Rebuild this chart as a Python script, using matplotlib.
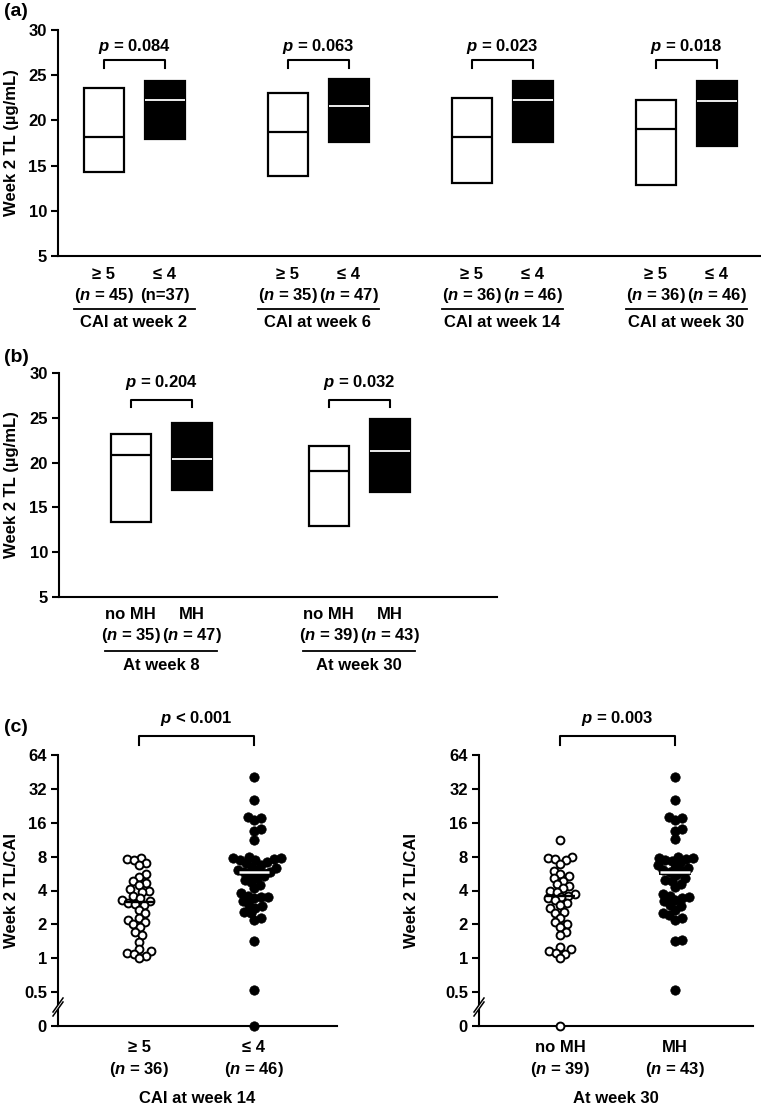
import numpy as np
import matplotlib
matplotlib.use("Agg")
import matplotlib.pyplot as plt
from matplotlib.transforms import blended_transform_factory
from matplotlib.patches import Polygon

plt.rcParams["font.family"] = ["Liberation Sans", "DejaVu Sans"]
plt.rcParams["font.weight"] = "bold"
plt.rcParams["axes.labelweight"] = "bold"
plt.rcParams["mathtext.fontset"] = "custom"
plt.rcParams["mathtext.it"] = "Liberation Sans:bold:italic"
plt.rcParams["mathtext.rm"] = "Liberation Sans:bold"

# ---- panel (a): CAI groups, week 2 trough level (box = IQR, line = median)
a_names = ["CAI at week 2", "CAI at week 6", "CAI at week 14", "CAI at week 30"]
a_p = ["0.084", "0.063", "0.023", "0.018"]
a_n_hi = [r"($n$ = 45)", r"($n$ = 35)", r"($n$ = 36)", r"($n$ = 36)"]
a_n_lo = ["(n=37)", r"($n$ = 47)", r"($n$ = 46)", r"($n$ = 46)"]
a_hi_low = [14.3, 13.85, 13.1, 12.9]
a_hi_med = [18.2, 18.7, 18.2, 19.05]
a_hi_high = [23.6, 23.0, 22.5, 22.3]
a_lo_low = [17.9, 17.6, 17.6, 17.2]
a_lo_med = [22.3, 21.6, 22.3, 22.1]
a_lo_high = [24.4, 24.6, 24.4, 24.4]

# ---- panel (b): mucosal healing groups
b_names = ["At week 8", "At week 30"]
b_p = ["0.204", "0.032"]
b_n_no = [r"($n$ = 35)", r"($n$ = 39)"]
b_n_mh = [r"($n$ = 47)", r"($n$ = 43)"]
b_no_low = [13.4, 12.9]
b_no_med = [20.85, 19.1]
b_no_high = [23.15, 21.85]
b_mh_low = [16.9, 16.75]
b_mh_med = [20.4, 21.25]
b_mh_high = [24.4, 24.9]

# ---- panel (c): week 2 TL / CAI, individual patients
c14_ge5 = [7.8, 7.6, 7.5, 7.0, 6.8, 5.6, 5.3, 4.9, 4.7, 4.5, 4.1, 4.0, 3.9,
           3.6, 3.4, 3.3, 3.2, 3.1, 3.05, 3.0, 2.7, 2.5, 2.3, 2.2, 2.1, 2.0,
           1.9, 1.7, 1.6, 1.4, 1.2, 1.15, 1.12, 1.1, 1.05, 1.0]
c14_le4 = [41, 25.5, 18.0, 17.5, 17.0, 14.0, 13.5, 11.3, 8.0, 7.8, 7.7, 7.6,
           7.5, 7.4, 7.2, 7.0, 6.8, 6.5, 6.3, 6.1, 6.0, 5.9, 5.8, 5.6, 5.4,
           5.2, 5.0, 4.8, 4.5, 4.2, 3.8, 3.6, 3.5, 3.5, 3.4, 3.2, 3.0, 2.9,
           2.8, 2.6, 2.5, 2.3, 2.2, 1.42, 0.52, 0]
c14_medians = [3.15, 5.9]
w30_nomh = [11.3, 8.0, 7.8, 7.6, 7.4, 6.9, 6.0, 5.6, 5.4, 5.2, 4.9, 4.6, 4.4,
            4.2, 4.0, 3.9, 3.7, 3.6, 3.5, 3.4, 3.3, 3.1, 3.0, 2.8, 2.6, 2.5,
            2.3, 2.1, 2.0, 1.9, 1.7, 1.6, 1.25, 1.2, 1.15, 1.12, 1.1, 1.0, 0]
w30_mh = [41, 25.5, 18.0, 17.5, 17.0, 14.0, 13.5, 11.5, 8.0, 7.8, 7.7, 7.6,
          7.5, 7.3, 7.0, 6.7, 6.4, 6.3, 6.1, 6.0, 5.8, 5.5, 5.2, 5.0, 4.9,
          4.6, 4.3, 3.7, 3.6, 3.5, 3.4, 3.3, 3.2, 3.0, 2.9, 2.7, 2.5, 2.4,
          2.3, 2.2, 1.45, 1.42, 0.52]
w30_medians = [3.55, 5.9]
c_ticks = [0, 0.5, 1, 2, 4, 8, 16, 32, 64]

FIG_W, FIG_H = 761, 1105
FS = 12


def rect(left, right, top, bottom):
    return [left / FIG_W, 1 - bottom / FIG_H, (right - left) / FIG_W, (bottom - top) / FIG_H]


def style_axes(ax):
    for s in ["top", "right"]:
        ax.spines[s].set_visible(False)
    for s in ["left", "bottom"]:
        ax.spines[s].set_linewidth(1.5)
    ax.tick_params(axis="y", direction="out", length=5, width=1.5, labelsize=FS, pad=3)
    ax.set_xticks([])


def bold_ticks(ax):
    for lab in ax.get_yticklabels():
        lab.set_fontweight("bold")


def bracket(ax, x1, x2, y, drop, label, ty, trans=None):
    trans = trans or ax.transData
    ax.plot([x1, x1, x2, x2], [y - drop, y, y, y - drop], color="black", lw=1.5,
            transform=trans, clip_on=False)
    ax.text((x1 + x2) / 2, ty, label, ha="center", va="center", fontsize=FS,
            transform=trans)


def box_pairs(ax, lw_, md_w, hi_w, lw_b, md_b, hi_b, ppu):
    x = np.arange(len(lw_))
    off, w = 30.5 / ppu, 40 / ppu
    ax.bar(x - off, np.array(hi_w) - np.array(lw_), bottom=lw_, width=w,
           facecolor="white", edgecolor="black", lw=1.6, zorder=2)
    ax.bar(x + off, np.array(hi_b) - np.array(lw_b), bottom=lw_b, width=w,
           facecolor="black", edgecolor="black", lw=1.6, zorder=2)
    ax.hlines(md_w, x - off - w / 2, x - off + w / 2, color="black", lw=1.6, zorder=3)
    ax.hlines(md_b, x + off - w / 2, x + off + w / 2, color="white", lw=1.3, zorder=3)
    return x, off


def under_labels(ax, x, off, top_l, top_r, n_l, n_r, names, ys, ext):
    trans = blended_transform_factory(ax.transData, ax.transAxes)
    for i, c in enumerate(x):
        ax.text(c - off, ys[0], top_l, ha="center", va="center", fontsize=FS, transform=trans)
        ax.text(c + off, ys[0], top_r, ha="center", va="center", fontsize=FS, transform=trans)
        ax.text(c - off, ys[1], n_l[i], ha="center", va="center", fontsize=FS, transform=trans)
        ax.text(c + off, ys[1], n_r[i], ha="center", va="center", fontsize=FS, transform=trans)
        ax.plot([c - off - ext, c + off + ext], [ys[2]] * 2, color="black", lw=1.3,
                transform=trans, clip_on=False)
        ax.text(c, ys[3], names[i], ha="center", va="center", fontsize=FS, transform=trans)


fig = plt.figure(figsize=(FIG_W / 100, FIG_H / 100), dpi=100)

# panel (a)
ppu_a = 184.0
ax_a = fig.add_axes(rect(58, 760, 30, 256))
style_axes(ax_a)
xa, offa = box_pairs(ax_a, a_hi_low, a_hi_med, a_hi_high, a_lo_low, a_lo_med, a_lo_high, ppu_a)
for i, c in enumerate(xa):
    bracket(ax_a, c - offa, c + offa, 26.7, 0.85, r"$p$ = " + a_p[i], 28.2)
ax_a.set_ylim(5, 30)
ax_a.set_yticks([5, 10, 15, 20, 25, 30])
bold_ticks(ax_a)
ax_a.set_xlim(-76 / ppu_a, 626 / ppu_a)
ax_a.set_ylabel("Week 2 TL (µg/mL)", fontsize=FS, fontweight="bold")
ax_a.yaxis.set_label_coords(-0.0556, 0.5)
under_labels(ax_a, xa, offa, "≥ 5", "≤ 4", a_n_hi, a_n_lo, a_names,
             [-0.084, -0.173, -0.2345, -0.296], 30 / ppu_a)

# panel (b)
ppu_b = 198.0
ax_b = fig.add_axes(rect(59, 497, 373, 597))
style_axes(ax_b)
xb, offb = box_pairs(ax_b, b_no_low, b_no_med, b_no_high, b_mh_low, b_mh_med, b_mh_high, ppu_b)
for i, c in enumerate(xb):
    bracket(ax_b, c - offb, c + offb, 27.0, 0.8, r"$p$ = " + b_p[i], 28.9)
ax_b.set_ylim(5, 30)
ax_b.set_yticks([5, 10, 15, 20, 25, 30])
bold_ticks(ax_b)
ax_b.set_xlim(-102 / ppu_b, 336 / ppu_b)
ax_b.set_ylabel("Week 2 TL (µg/mL)", fontsize=FS, fontweight="bold")
ax_b.yaxis.set_label_coords(-0.0913, 0.5)
under_labels(ax_b, xb, offb, "no MH", "MH", b_n_no, b_n_mh, b_names,
             [-0.080, -0.170, -0.241, -0.308], 25.5 / ppu_b)


def to_pos(v):
    v = np.asarray(v, dtype=float)
    return np.where(v > 0, np.log2(np.where(v > 0, v, 1)), -2.0)


def swarm(y_px, d):
    xs = np.zeros(len(y_px))
    placed = []
    for i in np.argsort(y_px):
        y = y_px[i]
        cands = [0.0]
        for px, py in placed:
            dy = y - py
            if abs(dy) < d:
                dx = np.sqrt(d * d - dy * dy)
                cands += [px + dx, px - dx]
        cands.sort(key=abs)
        for cx in cands:
            if all((cx - px) ** 2 + (y - py) ** 2 >= d * d - 1e-6 for px, py in placed):
                break
        placed.append((cx, y))
        xs[i] = cx
    return xs


def dot_panel(ax, groups, medians, tops, ns, name, p_label, ylabel_x):
    style_axes(ax)
    ppu_x, ppu_y = 115.0, 271 / 8
    for g, vals in enumerate(groups):
        y = to_pos(vals)
        x = g + swarm(y * ppu_y, 7.0) / ppu_x
        if g == 0:
            ax.scatter(x, y, s=32, facecolor="white", edgecolor="black", lw=1.4,
                       zorder=3, clip_on=False)
            ax.hlines(np.log2(medians[g]), g - 15 / ppu_x, g + 15 / ppu_x,
                      color="black", lw=1.7, zorder=4)
        else:
            ax.scatter(x, y, s=46, facecolor="black", edgecolor="black", lw=0.5,
                       zorder=3, clip_on=False)
            ax.hlines(np.log2(medians[g]), g - 16 / ppu_x, g + 16 / ppu_x,
                      color="black", lw=4.2, zorder=4)
            ax.hlines(np.log2(medians[g]), g - 15 / ppu_x, g + 15 / ppu_x,
                      color="white", lw=1.8, zorder=5)
    ax.set_ylim(-2, 6)
    ax.set_yticks(to_pos(c_ticks))
    ax.set_yticklabels([f"{t:g}" for t in c_ticks], fontweight="bold")
    ax.set_ylabel("Week 2 TL/CAI", fontsize=FS, fontweight="bold")
    ax.yaxis.set_label_coords(ylabel_x, 0.5)
    trans = blended_transform_factory(ax.transData, ax.transAxes)
    for g in range(2):
        ax.text(g, -0.081, tops[g], ha="center", va="center", fontsize=FS, transform=trans)
        ax.text(g, -0.162, ns[g], ha="center", va="center", fontsize=FS, transform=trans)
    ax.text(0.5, -0.266, name, ha="center", va="center", fontsize=FS, transform=ax.transAxes)
    bracket(ax, 0, 1, 1.070, 0.033, p_label, 1.1365, trans)
    # axis break on the y spine between 0 and 0.5
    w_ax = ax.get_position().width * FIG_W
    h_ax = ax.get_position().height * FIG_H
    yc, dx, dy, gap = 17 / h_ax, 5 / w_ax, 7 / h_ax, 4 / h_ax
    ax.add_patch(Polygon([(-dx, yc - dy), (dx, yc + dy), (dx, yc + dy + gap),
                          (-dx, yc - dy + gap)], closed=True, facecolor="white",
                         edgecolor="none", transform=ax.transAxes, clip_on=False, zorder=5))
    for off in (0, gap):
        ax.plot([-dx, dx], [yc - dy + off, yc + dy + off], color="black", lw=1.1,
                transform=ax.transAxes, clip_on=False, zorder=6)


ax_c1 = fig.add_axes(rect(58, 337, 755, 1026))
ax_c1.set_xlim(-81 / 115, 198 / 115)
dot_panel(ax_c1, [c14_ge5, c14_le4], c14_medians, ["≥ 5", "≤ 4"],
          [r"($n$ = 36)", r"($n$ = 46)"], "CAI at week 14", r"$p$ < 0.001", -0.140)

ax_c2 = fig.add_axes(rect(479, 753, 755, 1026))
ax_c2.set_xlim(-81 / 115, 193 / 115)
dot_panel(ax_c2, [w30_nomh, w30_mh], w30_medians, ["no MH", "MH"],
          [r"($n$ = 39)", r"($n$ = 43)"], "At week 30", r"$p$ = 0.003", -0.219)

fig.text(4 / FIG_W, 1 - 12 / FIG_H, "(a)", fontsize=14, ha="left", va="center")
fig.text(4 / FIG_W, 1 - 357 / FIG_H, "(b)", fontsize=14, ha="left", va="center")
fig.text(4 / FIG_W, 1 - 727 / FIG_H, "(c)", fontsize=14, ha="left", va="center")

fig.savefig("out.png", dpi=100)
